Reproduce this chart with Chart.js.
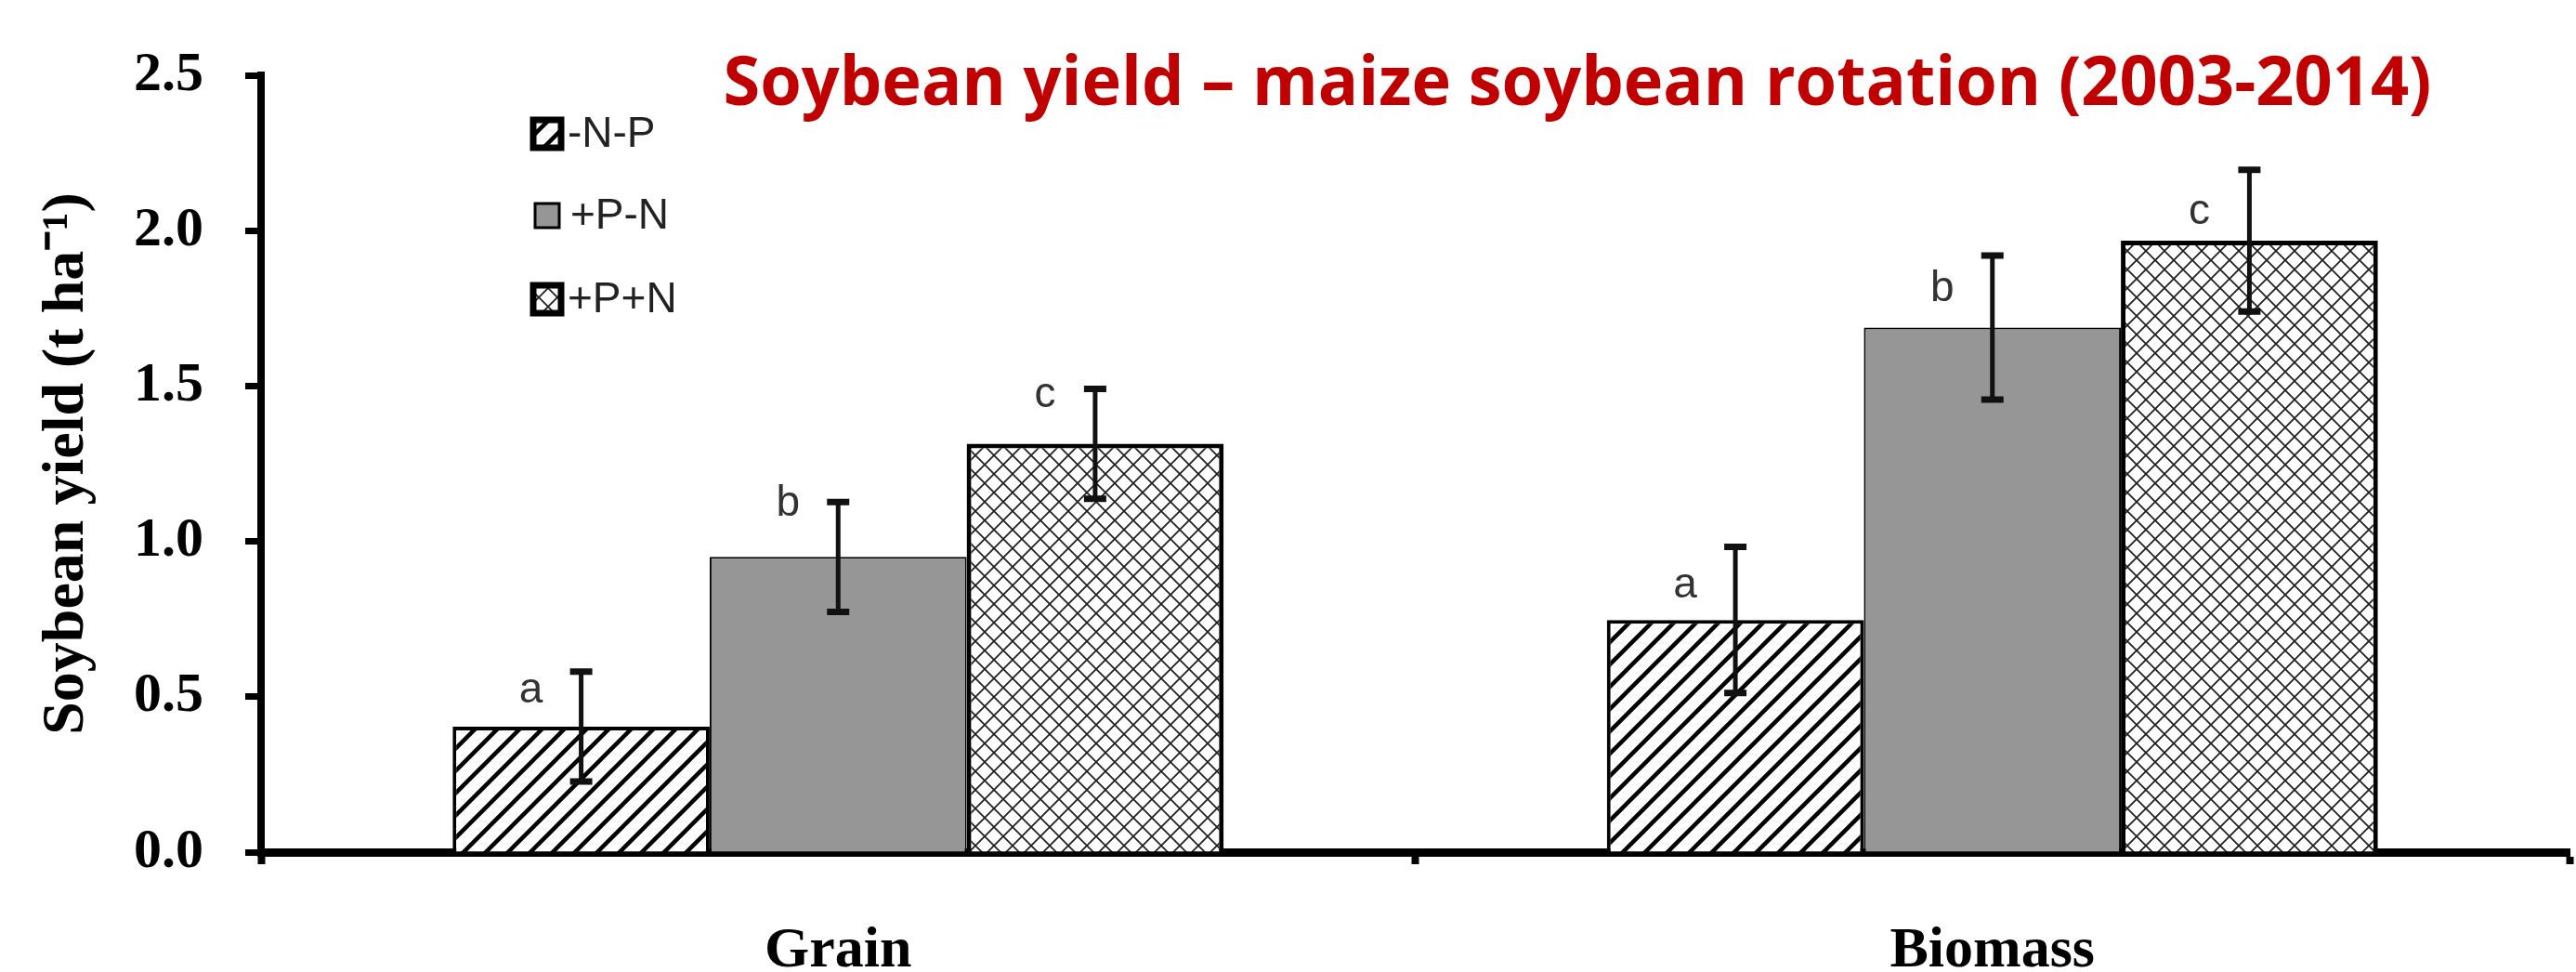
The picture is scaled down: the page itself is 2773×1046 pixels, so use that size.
<!DOCTYPE html>
<html>
<head>
<meta charset="utf-8">
<script src="https://cdn.jsdelivr.net/npm/chart.js@4/dist/chart.umd.min.js"></script>
<style>
  body { margin: 0; background: #fff; }
  #wrap { width: 2773px; height: 1046px; }
</style>
</head>
<body>
<div id="wrap"><canvas id="yieldChart" width="2773" height="1046"></canvas></div>
<script>
// data
const categories = ["Grain", "Biomass"];
const seriesNames = ["-N-P", "+P-N", "+P+N"];

const nnpValues = [0.404, 0.747];
const nnpErrors = [0.177, 0.235];
const pnValues = [0.950, 1.688];
const pnErrors = [0.177, 0.232];
const ppValues = [1.314, 1.968];
const ppErrors = [0.177, 0.228];

// significance letters and the height (in t/ha) where they sit
const nnpLetters = ["a", "a"];
const pnLetters = ["b", "b"];
const ppLetters = ["c", "c"];
const nnpLetterY = [0.52, 0.856];
const pnLetterY = [1.12, 1.812];
const ppLetterY = [1.47, 2.06];

const yTicks = [0, 0.5, 1.0, 1.5, 2.0, 2.5];

const chartTitle = "Soybean yield \u2013 maize soybean rotation (2003-2014)";
const yTitle = "Soybean yield (t ha\u207B\u00B9)";

const canvas = document.getElementById("yieldChart");
const ctx = canvas.getContext("2d");

// fill patterns
function hatchPattern(size, lw) {
  const c = document.createElement("canvas");
  c.width = size; c.height = size;
  const g = c.getContext("2d");
  g.fillStyle = "#fff";
  g.fillRect(0, 0, size, size);
  g.strokeStyle = "#000";
  g.lineWidth = lw;
  g.beginPath();
  for (const k of [0, 1, 2]) {
    g.moveTo(-2, k * size + 2);
    g.lineTo(k * size + 2, -2);
  }
  g.stroke();
  return ctx.createPattern(c, "repeat");
}

function crossPattern(size, lw) {
  const c = document.createElement("canvas");
  c.width = size; c.height = size;
  const g = c.getContext("2d");
  g.fillStyle = "#fff";
  g.fillRect(0, 0, size, size);
  g.strokeStyle = "#222";
  g.lineWidth = lw;
  g.beginPath();
  for (const k of [0, 1, 2]) {
    g.moveTo(-2, k * size + 2);
    g.lineTo(k * size + 2, -2);
    g.moveTo(-2, size - k * size - 2);
    g.lineTo(k * size + 2, size + 2);
  }
  g.stroke();
  return ctx.createPattern(c, "repeat");
}

const hatchFill = hatchPattern(24, 4.5);
const crossFill = crossPattern(20, 1.8);

const serif = '"Liberation Serif", "Times New Roman", serif';
const sans = '"Liberation Sans", Arial, sans-serif';

// error bars + letters
const errorBarPlugin = {
  id: "errorBars",
  afterDatasetsDraw(chart) {
    const y = chart.scales.y;
    const c = chart.ctx;
    c.save();
    chart.data.datasets.forEach((ds, i) => {
      const meta = chart.getDatasetMeta(i);
      meta.data.forEach((bar, j) => {
        const v = ds.data[j];
        const e = ds.errors[j];
        const top = y.getPixelForValue(v + e);
        const bot = y.getPixelForValue(v - e);
        c.strokeStyle = "#111";
        c.lineWidth = 5;
        c.beginPath();
        c.moveTo(bar.x, top);
        c.lineTo(bar.x, bot);
        c.stroke();
        c.lineWidth = 7;
        c.beginPath();
        c.moveTo(bar.x - 12, top);
        c.lineTo(bar.x + 12, top);
        c.moveTo(bar.x - 12, bot);
        c.lineTo(bar.x + 12, bot);
        c.stroke();

        c.fillStyle = "#333";
        c.font = "46px " + sans;
        c.textAlign = "center";
        c.textBaseline = "middle";
        c.fillText(ds.letters[j], bar.x - 54, y.getPixelForValue(ds.letterY[j]));
      });
    });
    c.restore();
  }
};

// legend inside the plot + red title
const overlayPlugin = {
  id: "overlay",
  afterDraw(chart) {
    const c = chart.ctx;
    c.save();
    const rows = [144, 232, 322];
    chart.data.datasets.forEach((ds, i) => {
      const cy = rows[i];
      const plain = i === 1;
      const s = plain ? 26 : 30;
      const bx = plain ? 576 : 574;
      c.fillStyle = ds.backgroundColor;
      c.fillRect(bx, cy - s / 2, s, s);
      c.strokeStyle = "#000";
      c.lineWidth = plain ? 3 : 7;
      c.strokeRect(bx, cy - s / 2, s, s);
      c.fillStyle = "#222";
      c.font = "46px " + sans;
      c.textAlign = "left";
      c.textBaseline = "middle";
      c.fillText(ds.label, plain ? 614 : 611, cy + 1);
    });

    c.fillStyle = "#C00000";
    c.font = 'bold 74px "Open Sans", "Noto Sans", sans-serif';
    c.textAlign = "center";
    c.textBaseline = "alphabetic";
    c.fillText(chartTitle, 1698, 113, 1839);
    c.restore();
  }
};

new Chart(ctx, {
  type: "bar",
  data: {
    labels: categories,
    datasets: [
      {
        label: seriesNames[0],
        data: nnpValues,
        errors: nnpErrors,
        letters: nnpLetters,
        letterY: nnpLetterY,
        backgroundColor: hatchFill,
        borderColor: "#000",
        borderWidth: 4,
      },
      {
        label: seriesNames[1],
        data: pnValues,
        errors: pnErrors,
        letters: pnLetters,
        letterY: pnLetterY,
        backgroundColor: "#969696",
        borderColor: "#000",
        borderWidth: 2,
      },
      {
        label: seriesNames[2],
        data: ppValues,
        errors: ppErrors,
        letters: ppLetters,
        letterY: ppLetterY,
        backgroundColor: crossFill,
        borderColor: "#000",
        borderWidth: 5,
      },
    ],
  },
  options: {
    responsive: false,
    animation: false,
    layout: { padding: { top: 72, right: 7, left: 0, bottom: 0 } },
    datasets: {
      bar: { categoryPercentage: 0.668, barPercentage: 1.0 },
    },
    plugins: {
      legend: { display: false },
      tooltip: { enabled: false },
      title: { display: false },
    },
    scales: {
      x: {
        z: 1,
        afterFit: (scale) => { scale.height = 129; },
        border: { display: true, color: "#000", width: 9 },
        grid: {
          offset: true,
          drawOnChartArea: false,
          drawTicks: true,
          tickLength: 13,
          tickWidth: 8,
          tickColor: "#000",
        },
        ticks: {
          color: "#000",
          padding: 57,
          font: { family: serif, weight: "bold", size: 62 },
        },
      },
      y: {
        z: 1,
        min: 0,
        max: 2.5,
        afterFit: (scale) => { scale.width = 281; },
        afterBuildTicks: (scale) => { scale.ticks = yTicks.map(v => ({ value: v })); },
        border: { display: true, color: "#000", width: 8 },
        grid: {
          drawOnChartArea: false,
          drawTicks: true,
          tickLength: 17,
          tickWidth: 7,
          tickColor: "#000",
        },
        ticks: {
          color: "#000",
          padding: 45,
          font: { family: serif, weight: "bold", size: 60 },
          callback: (v) => Number(v).toFixed(1),
        },
        title: {
          display: true,
          text: yTitle,
          color: "#000",
          padding: { top: 34, bottom: 0 },
          font: { family: serif, weight: "bold", size: 64 },
        },
      },
    },
  },
  plugins: [errorBarPlugin, overlayPlugin],
});
</script>
</body>
</html>
